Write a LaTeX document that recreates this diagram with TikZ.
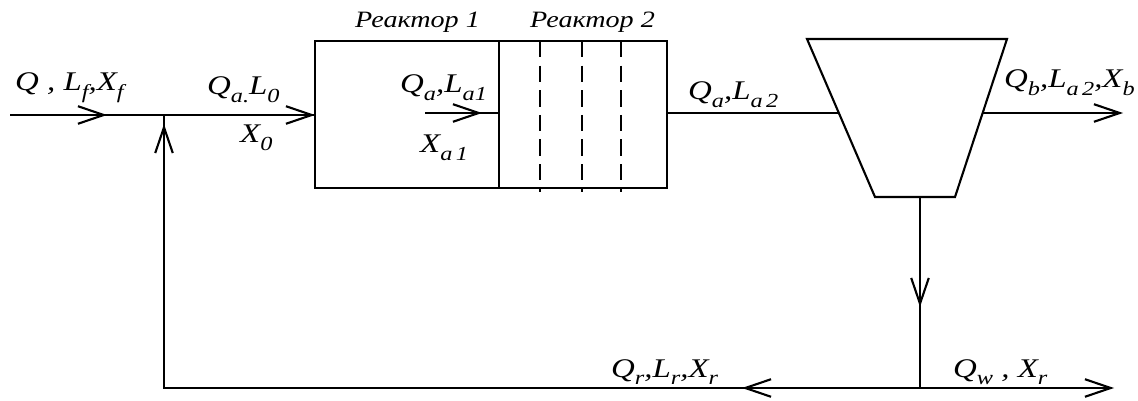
\documentclass[tikz,border=0pt]{standalone}
\usepackage{fontspec}
\setmainfont{Liberation Serif}
\newfontfamily\lblfont[FakeStretch=1.22]{Liberation Serif}
\newfontfamily\ttlfont[FakeStretch=1.2]{Liberation Serif}
\usetikzlibrary{arrows.meta}
\newcommand{\lbl}[2]{\textit{#1}\raisebox{-0.28em}{\fontsize{17}{18}\selectfont\itshape #2}}

\begin{document}
\begin{tikzpicture}[x=0.03cm,y=-0.03cm,
    line/.style={line width=1.8pt},
    flow/.style={line, -{Straight Barb[length=22pt,width=15pt]}},
    txt/.style={font=\lblfont\fontsize{23}{24}\selectfont\itshape, inner sep=0pt, anchor=base west},
    ttl/.style={font=\ttlfont\fontsize{20}{22}\selectfont\itshape, inner sep=0pt, anchor=base west}]
    \useasboundingbox (0,0) rectangle (1138,401);

    % Reaktoren
    \draw[line] (315,41) rectangle (499,188);
    \draw[line] (499,41) rectangle (667,188);
    \foreach \x in {540,582,621} {
      \draw[line, dash pattern=on 14pt off 7pt] (\x,41) -- (\x,192);
    }
    \node[ttl] (r1) at (355,28) {Реактор 1};
    \node[ttl] (r2) at (530,28) {Реактор 2};

    % Absetzbecken
    \coordinate (tl) at (807,39);
    \coordinate (tr) at (1007,39);
    \coordinate (br) at (955,197);
    \coordinate (bl) at (875,197);
    \draw[line] (tl) -- (tr) -- (br) -- (bl) -- cycle;

    % Punkte
    \coordinate (in) at (10,115);
    \coordinate (a1) at (107,115);
    \coordinate (j) at (164,115);
    \coordinate (b1) at (315,115);
    \coordinate (i1) at (425,113);
    \coordinate (i2) at (482,113);
    \coordinate (w) at (499,113);
    \coordinate (o1) at (667,113);
    \coordinate (o2) at (839,113);
    \coordinate (e1) at (983,113);
    \coordinate (e2) at (1123,113);
    \coordinate (s) at (920,197);
    \coordinate (s2) at (920,307);
    \coordinate (k) at (920,388);
    \coordinate (ex) at (1114,388);
    \coordinate (rl) at (742,388);
    \coordinate (c) at (164,388);
    \coordinate (up) at (164,124);

    % Linien
    \draw[line] (in) -- (b1);
    \draw[flow] (in) -- (a1);
    \draw[flow] (j) -- (b1);
    \draw[line] (i1) -- (w);
    \draw[flow] (i1) -- (i2);
    \draw[line] (o1) -- (o2);
    \draw[flow] (e1) -- (e2);
    \draw[line] (s) -- (k);
    \draw[flow] (s) -- (s2);
    \draw[flow] (k) -- (ex);
    \draw[line] (k) -- (c) -- (j);
    \draw[flow] (k) -- (rl);
    \draw[flow] (c) -- (up);

    % Beschriftung
    \node[txt] (l1) at (15,91) {\lbl{Q}{} , \lbl{L}{f},\lbl{X}{f}};
    \node[txt] (l2) at (207,95) {\lbl{Q}{a.}\lbl{L}{0}};
    \node[txt] (l3) at (240,143) {\lbl{X}{0}};
    \node[txt] (l4) at (400,93) {\lbl{Q}{a},\lbl{L}{a1}};
    \node[txt] (l5) at (420,153) {\lbl{X}{a\,1}};
    \node[txt] (l6) at (688,100) {\lbl{Q}{a},\lbl{L}{a\,2}};
    \node[txt] (l7) at (1004,88) {\lbl{Q}{b},\lbl{L}{a\,2},\lbl{X}{b}};
    \node[txt] (l8) at (611,377) {\lbl{Q}{r},\lbl{L}{r},\lbl{X}{r}};
    \node[txt] (l9) at (953,377) {\lbl{Q}{w} , \lbl{X}{r}};
\end{tikzpicture}
\end{document}
